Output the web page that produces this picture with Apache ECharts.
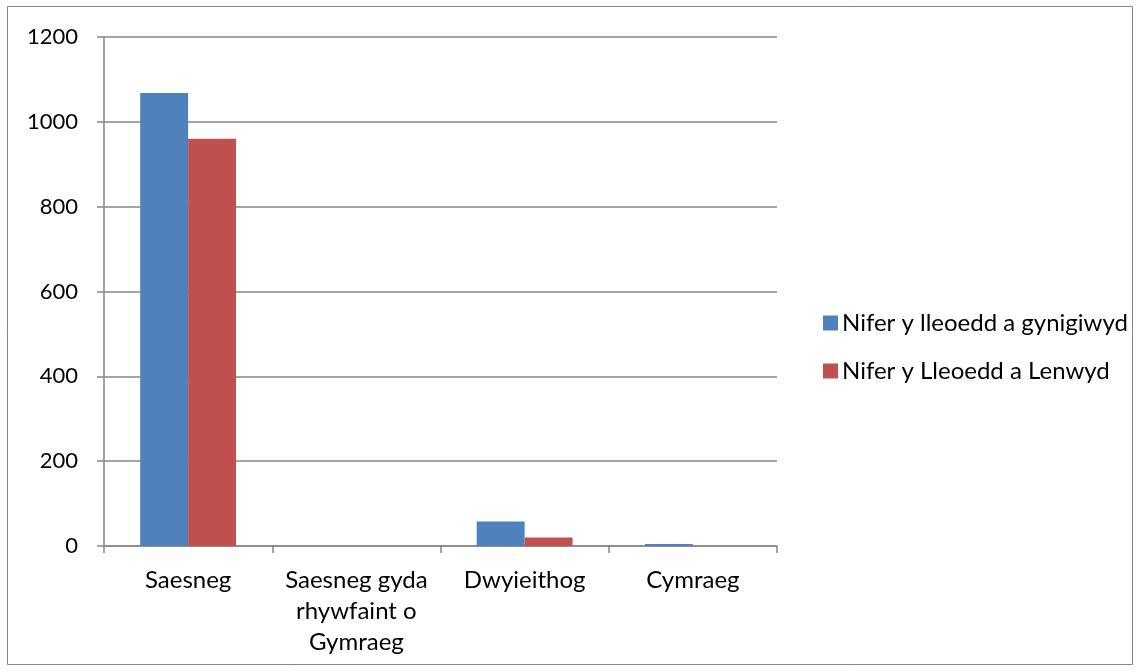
<!DOCTYPE html>
<html><head><meta charset="utf-8">
<script src="https://cdn.jsdelivr.net/npm/echarts@6/dist/echarts.min.js"></script>
<style>html,body{margin:0;padding:0;background:#fff}#c{width:1141px;height:672px}</style>
</head><body><div id="c"></div>
<script>
const categories = ['Saesneg', 'Saesneg gyda\nrhywfaint o\nGymraeg', 'Dwyieithog', 'Cymraeg'];
const seriesNames = ['Nifer y lleoedd a gynigiwyd', 'Nifer y Lleoedd a Lenwyd'];
const offered = [1068, 0, 58, 5];
const filled = [960, 0, 20, 0];
const yTicks = {min: 0, max: 1200, interval: 200};

const FONT = 'Lato, "Open Sans", sans-serif';
const chart = echarts.init(document.getElementById('c'));
chart.setOption({
  animation: false,
  textStyle: {fontFamily: FONT},
  graphic: [{type: 'rect', shape: {x: 7.5, y: 6.5, width: 1125, height: 658}, style: {fill: 'none', stroke: '#868686', lineWidth: 1}}],
  grid: {left: 104, right: 364, top: 37, bottom: 126},
  legend: {
    orient: 'vertical', left: 818, top: 303, itemWidth: 15, itemHeight: 15, itemGap: 18,
    icon: 'rect',
    textStyle: {fontSize: 24, lineHeight: 30, color: '#000', fontFamily: FONT, padding: [0, 0, 0, -1]},
    data: seriesNames
  },
  xAxis: {
    type: 'category', data: categories,
    axisLine: {lineStyle: {color: '#868686', width: 1.5}},
    axisTick: {show: true, length: 7, alignWithLabel: false, lineStyle: {color: '#868686', width: 1.5}},
    axisLabel: {fontSize: 24, color: '#000', lineHeight: 31, margin: 19, interval: 0, fontFamily: FONT}
  },
  yAxis: {
    type: 'value', min: yTicks.min, max: yTicks.max, interval: yTicks.interval,
    axisLine: {show: true, lineStyle: {color: '#868686', width: 1.5}},
    axisTick: {show: true, length: 7, lineStyle: {color: '#868686', width: 1.5}},
    splitLine: {lineStyle: {color: '#868686', width: 1.5}},
    axisLabel: {fontSize: 22, color: '#000', margin: 26, fontFamily: FONT, formatter: v => String(v)}
  },
  series: [
    {name: seriesNames[0], type: 'bar', data: offered, barCategoryGap: '43%', barGap: '0%', itemStyle: {color: '#4F81BD'}},
    {name: seriesNames[1], type: 'bar', data: filled, barCategoryGap: '43%', barGap: '0%', itemStyle: {color: '#C0504D'}}
  ]
});
</script></body></html>
